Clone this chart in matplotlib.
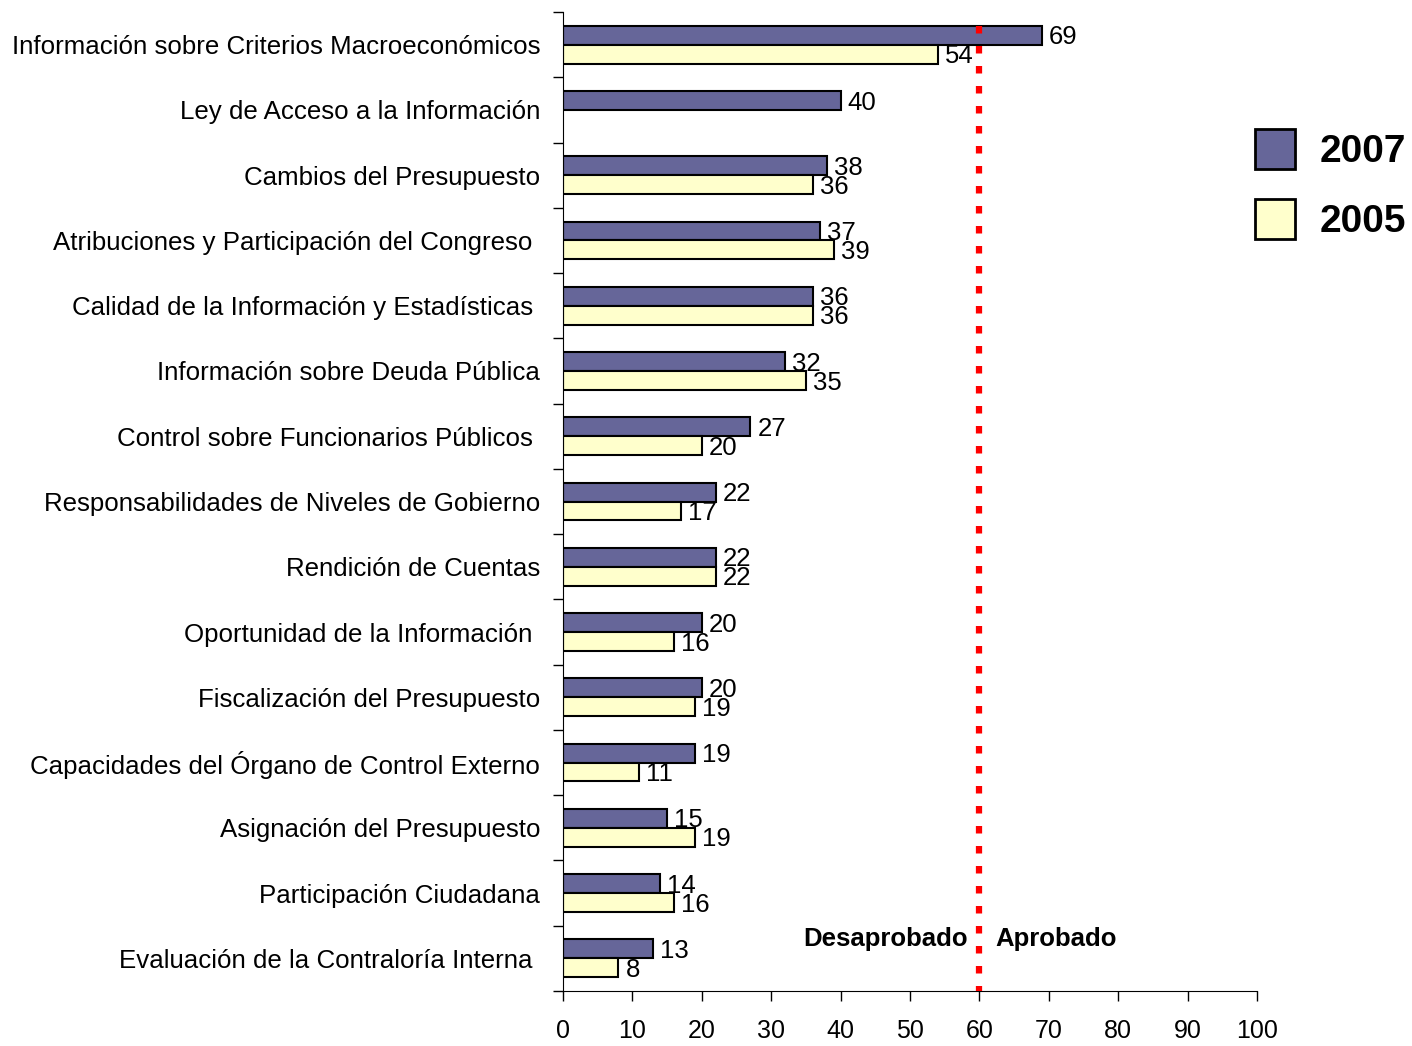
import matplotlib
matplotlib.use("Agg")
import matplotlib.pyplot as plt
from matplotlib.patches import Patch
import numpy as np

plt.rcParams['font.family'] = ['Liberation Sans', 'DejaVu Sans']

# datos
categorias = [
    "Información sobre Criterios Macroeconómicos",
    "Ley de Acceso a la Información",
    "Cambios del Presupuesto",
    "Atribuciones y Participación del Congreso ",
    "Calidad de la Información y Estadísticas ",
    "Información sobre Deuda Pública",
    "Control sobre Funcionarios Públicos ",
    "Responsabilidades de Niveles de Gobierno",
    "Rendición de Cuentas",
    "Oportunidad de la Información ",
    "Fiscalización del Presupuesto",
    "Capacidades del Órgano de Control Externo",
    "Asignación del Presupuesto",
    "Participación Ciudadana",
    "Evaluación de la Contraloría Interna ",
]
valores_2007 = [69, 40, 38, 37, 36, 32, 27, 22, 22, 20, 20, 19, 15, 14, 13]
valores_2005 = [54, None, 36, 39, 36, 35, 20, 17, 22, 16, 19, 11, 19, 16, 8]
series = ["2007", "2005"]
umbral = 60
xticks = list(range(0, 101, 10))

color_2007 = "#666699"
color_2005 = "#FFFFCC"

fig = plt.figure(figsize=(14.12, 10.46), dpi=100)
ax = fig.add_axes([0.3987, 0.0526, 0.4915, 0.9359])

y = np.arange(len(categorias))
h = 0.29

v05 = np.array([np.nan if v is None else v for v in valores_2005], dtype=float)

ax.barh(y - h / 2, valores_2007, height=h, color=color_2007, edgecolor="black", linewidth=1.5, zorder=2)
ax.barh(y + h / 2, v05, height=h, color=color_2005, edgecolor="black", linewidth=1.5, zorder=2)

# etiquetas de valor
for i in range(len(categorias)):
    ax.annotate(str(valores_2007[i]), (valores_2007[i], y[i] - h / 2), xytext=(5, -1.5),
                textcoords="offset points", ha="left", va="center", fontsize=18.5, zorder=2.5)
    if not np.isnan(v05[i]):
        ax.annotate(str(int(v05[i])), (v05[i], y[i] + h / 2), xytext=(5, -1.5),
                    textcoords="offset points", ha="left", va="center", fontsize=18.5, zorder=2.5)

# linea de aprobacion
ax.plot([umbral, umbral], [-h, len(categorias) - 0.5], color="red", linewidth=4.5,
        linestyle=(0, (1.2, 2.0)), dash_capstyle="butt", zorder=3)
ax.text(umbral - 1.7, len(categorias) - 1.3, "Desaprobado", ha="right", va="center",
        fontsize=18.5, fontweight="bold")
ax.text(umbral + 2.3, len(categorias) - 1.3, "Aprobado", ha="left", va="center",
        fontsize=18.5, fontweight="bold")

ax.set_xlim(0, 100)
ax.set_ylim(len(categorias) - 0.5, -0.5)
ax.set_xticks(xticks)
ax.tick_params(axis="x", direction="out", length=7, width=1, pad=13, labelsize=18)

ax.set_yticks(y)
ax.set_yticklabels(categorias, fontsize=18.6)
ax.set_yticks(np.arange(-0.5, len(categorias), 1), minor=True)
ax.tick_params(axis="y", which="major", length=0, pad=16.5)
ax.tick_params(axis="y", which="minor", direction="out", length=7, width=1)

for s in ["top", "right"]:
    ax.spines[s].set_visible(False)

handles = [Patch(facecolor=color_2007, edgecolor="black", linewidth=2),
           Patch(facecolor=color_2005, edgecolor="black", linewidth=2)]
fig.legend(handles, series, loc="upper left", bbox_to_anchor=(1255 / 1412, 1 - 129 / 1046),
           frameon=False, prop={"size": 28, "weight": "bold"}, borderpad=0,
           handlelength=1.03, handleheight=1.2, handletextpad=0.64, labelspacing=0.75,
           borderaxespad=0)

fig.savefig("out.png", dpi=100)
